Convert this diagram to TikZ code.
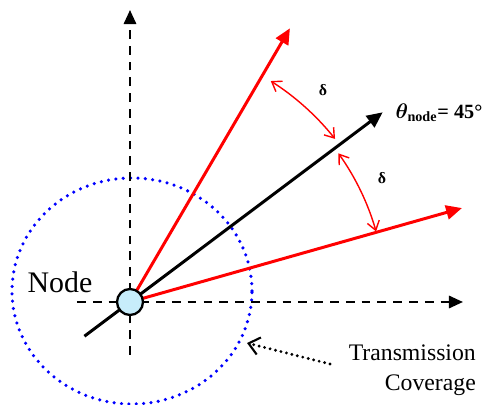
\documentclass[tikz,border=0pt]{standalone}
\usepackage{amsmath,amssymb,bm}
\usepackage{fontspec}
\setmainfont{Liberation Serif}
\usetikzlibrary{arrows.meta}

\begin{document}
\begin{tikzpicture}[x=0.02cm,y=0.02cm,
    axis/.style={dash pattern=on 5pt off 4pt,line width=1.3pt,-{Triangle[length=8pt,width=7pt]}},
    ray/.style={line width=1.7pt,-{Triangle[length=9pt,width=8pt]}},
    spread/.style={red,line width=0.8pt,{Straight Barb[length=5pt,width=7pt]}-{Straight Barb[length=5pt,width=7pt]}}]
    \useasboundingbox (-130,-103) rectangle (353,302);
    % coverage and axes
    \draw[blue,line width=2pt,line cap=round,dash pattern=on 0pt off 4.2pt] (2,11) ellipse (120 and 113);
    \draw[axis] (0,-53)--(0,292); \draw[axis] (-53,0)--(333,0);
    % directions
    \draw[line width=1.7pt] (216.9:57)--(0,0);
    \draw[ray,black] (0,0)--(36.9:316) coordinate (th);
    \draw[ray,red] (0,0)--(59.7:317) coordinate (r1);
    \draw[ray,red] (0,0)--(15.8:345) coordinate (r2);
    \draw[spread] (57.5:262) arc (57.5:38.5:262);
    \draw[spread] (35.5:256) arc (35.5:16:256);
    \node (d1) at (193,212) {\small\textbf{δ}};
    \node (d2) at (252,124) {\small\textbf{δ}};
    \node (tl) at (309,189) {\fontsize{11.5}{14}\selectfont$\bm{\theta}_{\textbf{node}}$\textbf{= 45°}};
    % the node
    \node[circle,draw,line width=1.3pt,fill=cyan!22,minimum size=0.52cm,inner sep=0pt] (nd) at (0,0) {};
    \node (nl) at (-70,20) {\fontsize{17}{20}\selectfont Node};
    \node[align=right,anchor=east,font=\fontsize{13.5}{17}\selectfont] (tc) at (352,-68) {Transmission\\Coverage};
    \coordinate (ct) at (117,-41);
    \draw[line width=1.8pt,line cap=round,dash pattern=on 0pt off 3.2pt,-{Straight Barb[length=6pt,width=10pt,line width=1.2pt]}] (200,-62)--(ct);
\end{tikzpicture}
\end{document}
